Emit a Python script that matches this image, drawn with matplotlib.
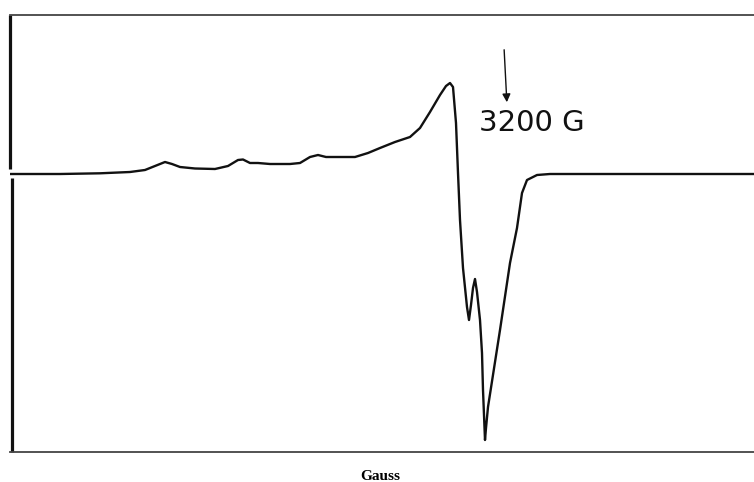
import numpy as np
import matplotlib.pyplot as plt

# EPR first-derivative trace, field in Gauss, signal in arbitrary units
field_G = [2206, 2306, 2386, 2446, 2476, 2496, 2516, 2530, 2546, 2576, 2616,
           2642, 2662, 2672, 2686, 2702, 2726, 2766, 2786, 2806, 2822, 2838,
           2856, 2896, 2922, 2946, 2976, 3006, 3026, 3046, 3066, 3078, 3086,
           3092, 3098, 3102, 3106, 3112, 3120, 3124, 3128, 3132, 3136, 3140,
           3146, 3150, 3152, 3156, 3158, 3162, 3186, 3206, 3220, 3230, 3240,
           3260, 3286, 3386, 3694]
signal = [0, 0, 0.7, 2, 4, 8, 12, 10, 7, 5.5, 5,
          8, 14, 14.5, 11, 11, 10, 10, 11, 17, 19, 17,
          17, 17, 21, 26, 32, 37, 46, 62, 79, 88, 91,
          87, 51, 1, -46, -94, -133, -146, -131, -114, -105, -118,
          -146, -179, -216, -266, -254, -233, -156, -89, -54, -19, -6,
          -1, 0, 0, 0]

fig = plt.figure(figsize=(7.54, 4.82), dpi=100)
W, H = 754, 482
ax = fig.add_axes([10 / W, (H - 452) / H, (760 - 10) / W, (452 - 15) / H])

# 2 G per px along x, 1 unit per px along y
ax.set_xlim(2206, 2206 + 750 * 2)
ax.set_ylim(-278, 159)

ax.plot(field_G, signal, color='#111111', lw=1.7, solid_joinstyle='round')

for side in ['right', 'left']:
    ax.spines[side].set_visible(False)
for side in ['top', 'bottom']:
    ax.spines[side].set_color('#444444')
    ax.spines[side].set_linewidth(1.3)

# left frame line, broken where the baseline meets it
ax.plot([0, 0], [1, 0.648], transform=ax.transAxes, color='#111111',
        lw=2.3, clip_on=False, solid_capstyle='butt')
ax.plot([0.003, 0.003], [0.628, 0], transform=ax.transAxes, color='#111111',
        lw=2.3, clip_on=False, solid_capstyle='butt')

ax.set_xticks([])
ax.set_yticks([])

# marker for the 3200 G position
ax.annotate('', xy=(3200, 69), xytext=(3194, 127),
            arrowprops=dict(arrowstyle='-|>', color='#111111', lw=1.0,
                            mutation_scale=12))
ax.text(3250, 51, '3200 G', family='DejaVu Sans', fontsize=21,
        ha='center', va='center', color='#111111')

fig.text(380 / W, 1 - 476 / H, 'Gauss', family='Liberation Serif',
         fontweight='bold', fontsize=11, ha='center', va='center')

fig.savefig('out.png', dpi=100)
